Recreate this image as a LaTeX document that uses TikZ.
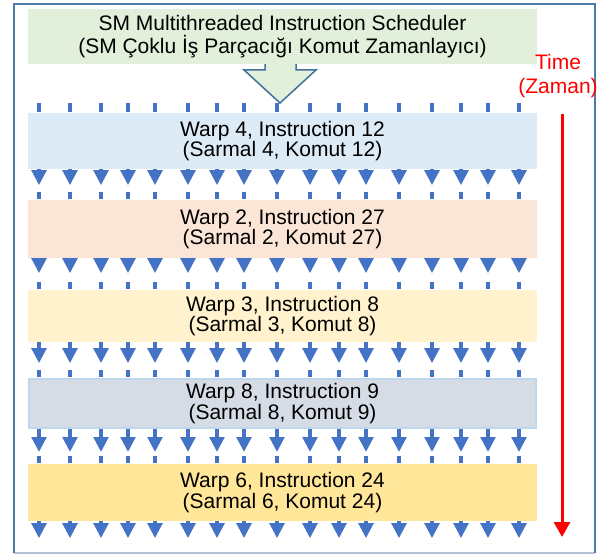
\documentclass[tikz,border=0pt]{standalone}
\usepackage{fontspec}
\setmainfont{Liberation Sans}
\usetikzlibrary{arrows.meta}

\definecolor{framecol}{HTML}{4F79A6}
\definecolor{framelow}{HTML}{B4C2D3}
\definecolor{schedfill}{HTML}{E2EFDA}
\definecolor{arrowedge}{HTML}{41719C}
\definecolor{flowblue}{HTML}{4472C4}
\definecolor{wfour}{HTML}{DDEBF7}
\definecolor{wtwo}{HTML}{FBE5D6}
\definecolor{wthree}{HTML}{FFF2CC}
\definecolor{weight}{HTML}{D6DCE5}
\definecolor{weightedge}{HTML}{BDD7EE}
\definecolor{wsix}{HTML}{FFE699}

\begin{document}
\begin{tikzpicture}[x=1bp,y=-1bp,
  band/.style={draw=none, inner sep=0pt, minimum width=509bp, align=center,
    text=black, font=\fontsize{21bp}{20.6bp}\selectfont},
  schedbox/.style={band, fill=schedfill, font=\fontsize{21bp}{23.6bp}\selectfont},
  timelabel/.style={inner sep=0pt, align=center, text=red,
    font=\fontsize{21bp}{24bp}\selectfont},
  flow/.style={draw=flowblue, line width=4.5bp,
    -{Triangle[width=14.5bp,length=15bp]}, fill=flowblue},
  dashseg/.style={draw=flowblue, line width=4.5bp},
  timearrow/.style={draw=red, line width=3bp,
    -{Triangle[width=16bp,length=15bp]}, fill=red},
  blockarrow/.style={draw=arrowedge, line width=1.5bp, fill=schedfill, line join=miter}
]
\useasboundingbox (0,0) rectangle (601,554);

% outer frame
\draw[framelow, line width=2bp] (14,553) -- (595,553);
\draw[framecol, line width=2.4bp] (14,553) -- (14,4) -- (595,4) -- (595,553);

% block arrow from the scheduler
\draw[blockarrow] (265,55) -- (265,70) -- (244,70) -- (280,103) -- (316,70)
  -- (296,70) -- (296,55);

% scheduler box
\node[schedbox, minimum height=55bp] (sched) at (282.5,36.5)
  {SM Multithreaded Instruction Scheduler\\(SM Çoklu İş Parçacığı Komut Zamanlayıcı)};

% warp instruction bands
\node[band, fill=wfour, minimum height=56bp] (w4) at (282.5,141)
  {Warp 4, Instruction 12\\(Sarmal 4, Komut 12)};
\node[band, fill=wtwo, minimum height=58bp] (w2) at (282.5,229)
  {Warp 2, Instruction 27\\(Sarmal 2, Komut 27)};
\node[band, fill=wthree, minimum height=52bp] (w3) at (282.5,316)
  {Warp 3, Instruction 8\\(Sarmal 3, Komut 8)};
\node[band, fill=weight, draw=weightedge, line width=2bp, minimum width=507bp,
  minimum height=49bp] (w8) at (282.5,403.5)
  {Warp 8, Instruction 9\\(Sarmal 8, Komut 9)};
\node[band, fill=wsix, minimum height=57bp] (w6) at (282.5,492.5)
  {Warp 6, Instruction 24\\(Sarmal 6, Komut 24)};

% thread columns
\foreach \x [count=\i] in {39,70,101,128,155,188,217,244,277,310,339,366,399,432,461,488,519}
  \coordinate (c\i) at (\x,0);

\foreach \i in {1,...,17} {
  \draw[dashseg] (c\i |- w4.north) ++(0,-10) -- ++(0,9);
  \foreach \up/\down/\len in {w4/w2/16, w2/w3/15, w3/w8/21, w8/w6/23} {
    \draw[flow] (c\i |- \up.south) -- ++(0,\len);
    \draw[dashseg] (c\i |- \down.north) ++(0,-8) -- ++(0,7);
  }
  \draw[flow] (c\i |- w6.south) -- ++(0,17);
}

% time axis
\node[timelabel] (time) at (558,76) {Time\\(Zaman)};
\coordinate (tstart) at (562,114);
\coordinate (tend) at (562,537);
\draw[timearrow] (tstart) -- (tend);
\end{tikzpicture}
\end{document}
